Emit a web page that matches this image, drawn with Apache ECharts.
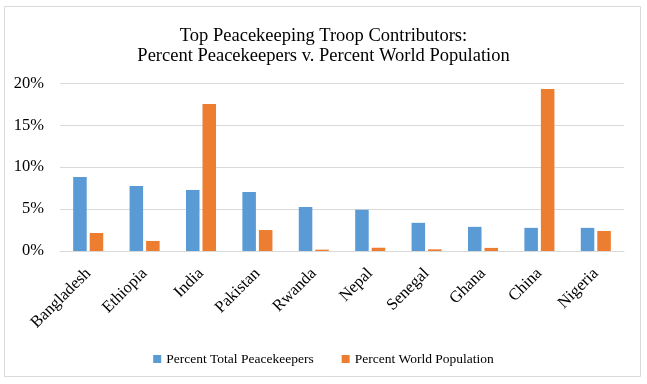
<!DOCTYPE html>
<html><head><meta charset="utf-8">
<script src="https://cdn.jsdelivr.net/npm/echarts@6/dist/echarts.min.js"></script>
<style>html,body{margin:0;padding:0;background:#fff}#c{width:647px;height:384px}</style>
</head><body><div id="c"></div>
<script>
const categories = ['Bangladesh','Ethiopia','India','Pakistan','Rwanda','Nepal','Senegal','Ghana','China','Nigeria'];
const peacekeepers = [8.83, 7.76, 7.28, 7.04, 5.25, 4.92, 3.36, 2.88, 2.76, 2.76];
const population = [2.15, 1.2, 17.54, 2.5, 0.16, 0.39, 0.2, 0.37, 19.33, 2.39];
const yTicks = [0, 5, 10, 15, 20];
const seriesNames = ['Percent Total Peacekeepers', 'Percent World Population'];
const font = '"Liberation Serif", "DejaVu Serif", serif';
const chart = echarts.init(document.getElementById('c'));
chart.setOption({
  animation: false,
  backgroundColor: '#fff',
  graphic: [{type:'rect', shape:{x:4.5,y:6.5,width:636,height:370}, style:{fill:'none', stroke:'#d9d9d9', lineWidth:1}}],
  title: {
    text: 'Top Peacekeeping Troop Contributors:\nPercent Peacekeepers v. Percent World Population',
    left: 'center', top: 21,
    textStyle: {fontFamily: font, fontSize: 18.5, fontWeight: 'normal', color: '#000', lineHeight: 20}
  },
  legend: {
    top: 347, left: 'center', itemWidth: 8, itemHeight: 8, itemGap: 28,
    icon: 'rect',
    textStyle: {fontFamily: font, fontSize: 13.5, color: '#000'},
    data: seriesNames
  },
  grid: {left: 60, right: 23, top: 83.3, bottom: 133},
  xAxis: {
    type: 'category', data: categories,
    axisLine: {lineStyle: {color: '#d9d9d9'}}, axisTick: {show: false},
    axisLabel: {rotate: 45, fontFamily: font, fontSize: 16.5, color: '#000', margin: 20, interval: 0}
  },
  yAxis: {
    type: 'value', min: yTicks[0], max: yTicks[yTicks.length-1], interval: 5,
    axisLine: {show: false}, axisTick: {show: false},
    splitLine: {lineStyle: {color: '#d9d9d9'}},
    axisLabel: {formatter: v => v + '%', fontFamily: font, fontSize: 16.5, color: '#000', margin: 16}
  },
  series: [
    {name: seriesNames[0], type: 'bar', data: peacekeepers, barWidth: '24%', barGap: '22%', itemStyle: {color: '#5B9BD5'}},
    {name: seriesNames[1], type: 'bar', data: population, barWidth: '24%', barGap: '22%', itemStyle: {color: '#ED7D31'}}
  ]
});
</script></body></html>
